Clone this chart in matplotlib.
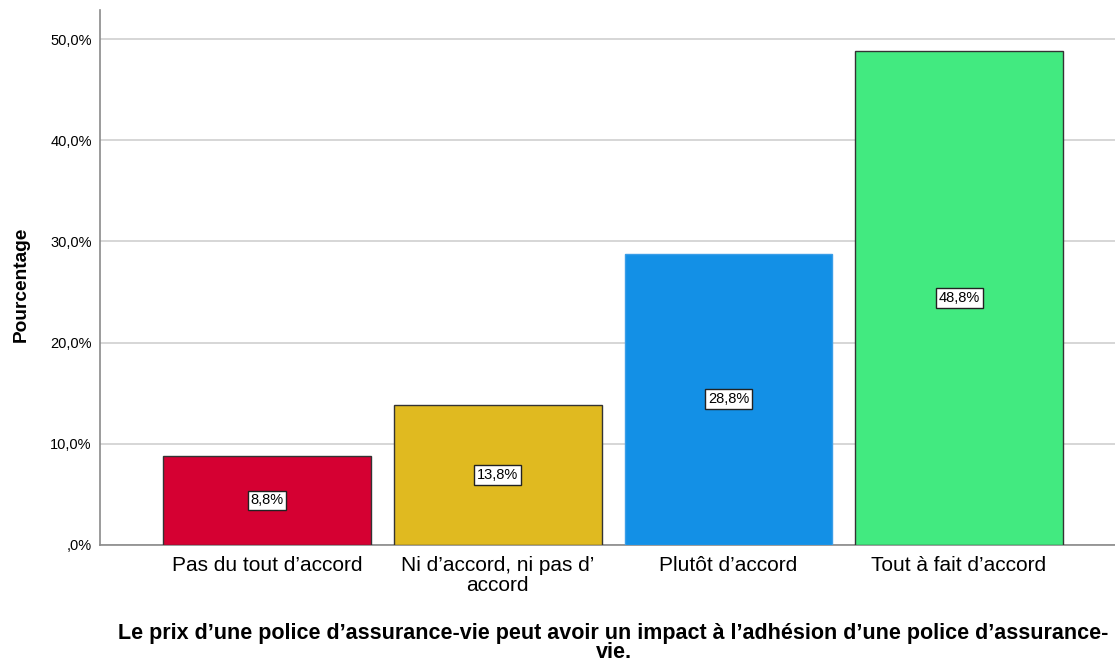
import matplotlib.pyplot as plt
import numpy as np

plt.rcParams['font.family'] = ['Liberation Sans', 'DejaVu Sans']

categories = ["Pas du tout d\u2019accord", "Ni d\u2019accord, ni pas d\u2019\naccord",
              "Plut\u00f4t d\u2019accord", "Tout \u00e0 fait d\u2019accord"]
percent = [8.8, 13.8, 28.8, 48.8]
colors = ['#d50032', '#e0ba20', '#1390e6', '#42ea80']
edges = ['#333333', '#333333', '#3a9ee8', '#333333']
yticks = [0, 10, 20, 30, 40, 50]


def fmt(v):
    s = f"{v:.1f}%".replace('.', ',')
    return s[1:] if s.startswith('0,') else s


fig = plt.figure(figsize=(11.15, 6.62), dpi=100)
ax = fig.add_axes([100 / 1115, 117 / 662, 1015 / 1115, 535 / 662])

x = np.arange(len(categories))
ax.bar(x, percent, width=0.9, color=colors, edgecolor=edges, linewidth=1.0, zorder=3)

for xi, v in zip(x, percent):
    ax.text(xi, v / 2, fmt(v), ha='center', va='center', fontsize=10.5, zorder=4,
            bbox=dict(boxstyle='square,pad=0.2', fc='white', ec='#222222', lw=1))

ax.set_xlim(-0.724, 3.676)
ax.set_ylim(0, 52.87)
ax.set_yticks(yticks)
ax.set_yticklabels([fmt(t) for t in yticks], fontsize=10.5)
ax.set_xticks(x)
ax.set_xticklabels(categories, fontsize=15, linespacing=1.08)
ax.tick_params(length=0, pad=6)
ax.tick_params(axis='x', pad=8)
ax.yaxis.grid(True, color='#d0d0d0', lw=1.2, zorder=0)

for s in ['top', 'right']:
    ax.spines[s].set_visible(False)
for s in ['left', 'bottom']:
    ax.spines[s].set_color('#8a8a8a')
    ax.spines[s].set_linewidth(1.2)

ax.set_ylabel('Pourcentage', fontsize=13.8, fontweight='bold')
ax.yaxis.set_label_coords(-0.069, 0.487)
ax.set_xlabel("Le prix d\u2019une police d\u2019assurance-vie peut avoir un impact \u00e0 l\u2019adh\u00e9sion d\u2019une police d\u2019assurance-\nvie.",
              fontsize=15.5, fontweight='bold', linespacing=0.88)
ax.xaxis.set_label_coords(0.506, -0.145)
ax.xaxis.label.set_va('top')

fig.savefig('out.png', dpi=100)
